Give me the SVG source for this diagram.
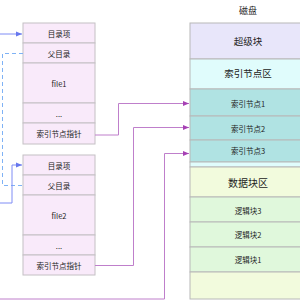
<svg xmlns="http://www.w3.org/2000/svg" width="300" height="300" viewBox="0 0 300 300">
<defs>
<style>
text{font-family:"Noto Sans CJK SC","Liberation Sans",sans-serif;fill:#222;text-anchor:middle;dominant-baseline:central}
.t{fill:#f9eafa;stroke:#c4c0c4;stroke-width:1}
.d{stroke:#b8b8b8;stroke-width:1}
.s{font-size:7.5px}
.p{fill:none;stroke:#bf7fcb;stroke-width:1}
.b{fill:none;stroke:#7f8cf5;stroke-width:1}
.bd{fill:none;stroke:#7fb2f5;stroke-width:1;stroke-dasharray:4 3}
</style>
<marker id="ap" viewBox="0 0 10 10" refX="10" refY="5" markerWidth="6" markerHeight="6" orient="auto" markerUnits="userSpaceOnUse"><path d="M0,1 L10,5 L0,9 Z" fill="#a640b4"/></marker>
<marker id="ab" viewBox="0 0 10 10" refX="10" refY="5" markerWidth="6" markerHeight="6" orient="auto" markerUnits="userSpaceOnUse"><path d="M0,1 L10,5 L0,9 Z" fill="#6677ee"/></marker>
</defs>
<g id="dir1">
<rect class="t" x="23" y="23" width="72" height="20"/><text class="s" x="59" y="33">目录项</text>
<rect class="t" x="23" y="43" width="72" height="20"/><text class="s" x="59" y="53">父目录</text>
<rect class="t" x="23" y="63" width="72" height="40"/><text class="s" x="59" y="83">file1</text>
<rect class="t" x="23" y="103" width="72" height="20"/><text class="s" x="59" y="113">...</text>
<rect class="t" x="23" y="123" width="72" height="21"/><text class="s" x="59" y="133.5">索引节点指针</text>
</g>
<g id="dir2">
<rect class="t" x="23" y="155" width="72" height="20"/><text class="s" x="59" y="165">目录项</text>
<rect class="t" x="23" y="175" width="72" height="20"/><text class="s" x="59" y="185">父目录</text>
<rect class="t" x="23" y="195" width="72" height="40"/><text class="s" x="59" y="215">file2</text>
<rect class="t" x="23" y="235" width="72" height="20"/><text class="s" x="59" y="245">...</text>
<rect class="t" x="23" y="255" width="72" height="20"/><text class="s" x="59" y="265">索引节点指针</text>
</g>
<g id="disk">
<text x="248" y="10" style="font-size:9px">磁盘</text>
<rect class="d" x="190" y="23" width="120" height="36" fill="#e8e6fa"/><text x="248" y="41" style="font-size:9.5px">超级块</text>
<rect class="d" x="190" y="59" width="120" height="30" fill="#e0fcfc"/><text x="248" y="73" style="font-size:9.5px">索引节点区</text>
<rect class="d" x="190" y="89" width="120" height="27" fill="#b0e3e3"/><text class="s" x="248" y="103">索引节点1</text>
<rect class="d" x="190" y="116" width="120" height="24" fill="#b0e3e3"/><text class="s" x="248" y="128">索引节点2</text>
<rect class="d" x="190" y="140" width="120" height="22" fill="#b0e3e3"/><text class="s" x="248" y="150">索引节点3</text>
<rect class="d" x="190" y="162" width="120" height="5" fill="#e0fcfc"/>
<rect class="d" x="190" y="167" width="120" height="30" fill="#f2fbdd"/><text x="248" y="182" style="font-size:10px">数据块区</text>
<rect class="d" x="190" y="197" width="120" height="25" fill="#e0f8dc"/><text class="s" x="248" y="210">逻辑块3</text>
<rect class="d" x="190" y="222" width="120" height="25" fill="#e0f8dc"/><text class="s" x="248" y="234.5">逻辑块2</text>
<rect class="d" x="190" y="247" width="120" height="25" fill="#e0f8dc"/><text class="s" x="248" y="259.5">逻辑块1</text>
<rect class="d" x="190" y="272" width="120" height="27" fill="#f2fbdd"/>
</g>
<g id="connectors">
<path class="b" d="M0,34 H22" marker-end="url(#ab)"/>
<path class="bd" d="M23,53.5 H2.5 V185.5 H23"/>
<path class="b" d="M0,203 H12 V165 H22" marker-end="url(#ab)"/>
<path class="p" d="M95,135 H118.5 V103.5 H189" marker-end="url(#ap)"/>
<path class="p" d="M95,265.5 H133.5 V127.5 H189" marker-end="url(#ap)"/>
<path class="p" d="M0,299 H164.5 V153.5 H189" marker-end="url(#ap)"/>
</g>
</svg>
